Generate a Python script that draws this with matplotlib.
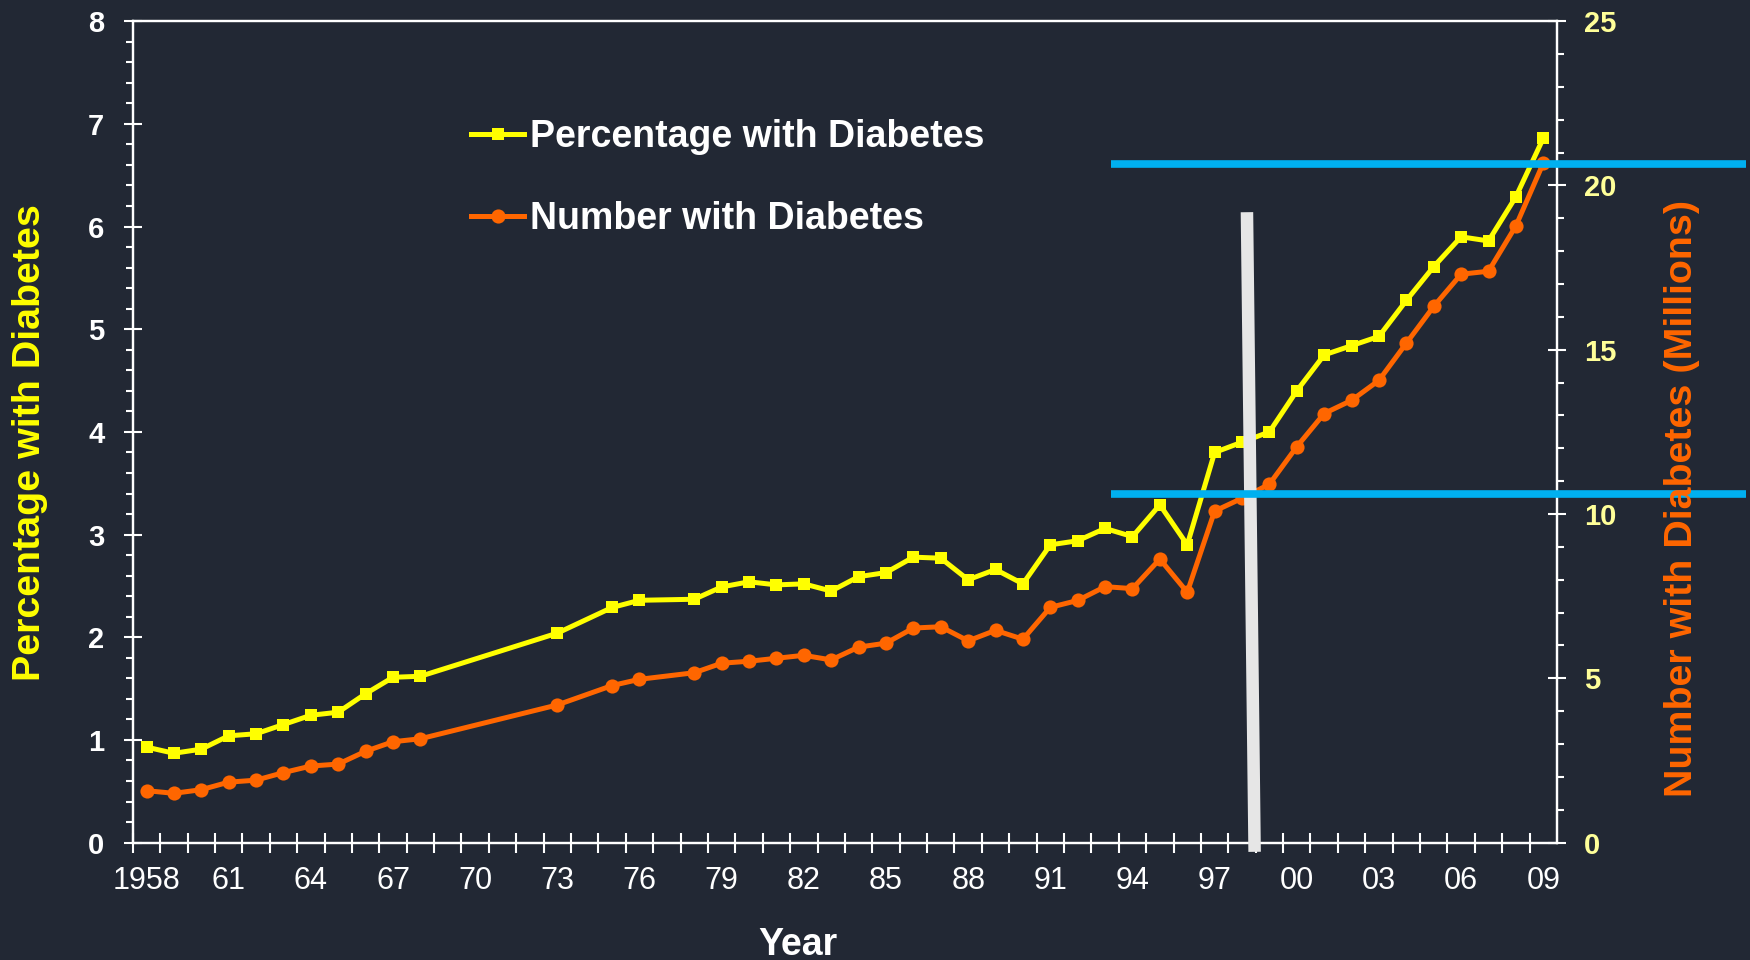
import matplotlib
matplotlib.use("Agg")
import matplotlib.pyplot as plt
from matplotlib.ticker import FixedLocator, MultipleLocator

plt.rcParams['font.family'] = ['Liberation Sans', 'DejaVu Sans']

# Survey years
years = list(range(1958, 1969)) + [1973, 1975, 1976] + list(range(1978, 2010))

# Percentage of population with diagnosed diabetes
pct = [0.93, 0.87, 0.91, 1.04, 1.06, 1.15, 1.24, 1.27, 1.45, 1.61, 1.62,
       2.04, 2.29, 2.36,
       2.37, 2.49, 2.54, 2.51, 2.52, 2.45, 2.59, 2.63, 2.78, 2.77, 2.56,
       2.66, 2.52, 2.90, 2.94, 3.06, 2.98, 3.29, 2.90, 3.80, 3.90, 4.00,
       4.40, 4.75, 4.84, 4.93, 5.28, 5.61, 5.90, 5.86, 6.29, 6.86]

# Number of people with diagnosed diabetes (millions)
num = [1.58, 1.50, 1.61, 1.84, 1.90, 2.13, 2.33, 2.39, 2.78, 3.07, 3.16,
       4.19, 4.78, 4.97,
       5.17, 5.46, 5.52, 5.61, 5.70, 5.56, 5.95, 6.07, 6.53, 6.57, 6.14,
       6.46, 6.19, 7.16, 7.37, 7.79, 7.73, 8.63, 7.62, 10.09, 10.48, 10.91,
       12.05, 13.06, 13.46, 14.07, 15.20, 16.32, 17.30, 17.39, 18.77, 20.68]

# Year labels on the x axis
label_years = list(range(1958, 2010, 3))
label_text = ['1958'] + [f"{y % 100:02d}" for y in label_years[1:]]

# Reference levels (millions) and the marker bar (year, percent)
ref_levels = [20.65, 10.6]
ref_span = [1993.2, 2016.4]
bar_x = [1998.18, 1998.46]
bar_y = [6.14, -0.09]

BG = '#222834'
YELLOW = '#FFFF00'
ORANGE = '#FF6600'
BLUE = '#00B0F0'
PALE = '#FFFF99'

fig = plt.figure(figsize=(17.5, 9.6), dpi=100, facecolor=BG)
ax = fig.add_axes([0.0759, 0.1223, 0.8138, 0.8556])
ax.set_facecolor(BG)
ax2 = ax.twinx()

l1, = ax.plot(years, pct, color=YELLOW, lw=3.6, marker='s', ms=8.8,
              markeredgewidth=0, label='Percentage with Diabetes')
l2, = ax2.plot(years, num, color=ORANGE, lw=3.6, marker='o', ms=10.2,
               markeredgewidth=0, label='Number with Diabetes')

ax.set_xlim(1957.5, 2009.5)
ax.set_ylim(0, 8)
ax2.set_ylim(0, 25)

for a in (ax, ax2):
    for s in a.spines.values():
        s.set_color('white')
        s.set_linewidth(1.6)

# x axis: labels every three years, ticks between categories
ax.xaxis.set_major_locator(FixedLocator(label_years))
ax.set_xticklabels(label_text)
ax.xaxis.set_minor_locator(FixedLocator([y + 0.5 for y in range(1957, 2009)]))
ax.tick_params(axis='x', which='major', length=0, pad=17, labelsize=22,
               labelcolor='white')
ax.tick_params(axis='x', which='minor', direction='inout', length=14,
               width=1.5, color='white')

# left y axis
ax.yaxis.set_major_locator(MultipleLocator(1))
ax.yaxis.set_minor_locator(MultipleLocator(0.2))
ax.tick_params(axis='y', which='major', direction='inout', length=13,
               width=1.5, color='white', pad=14, labelsize=21,
               labelcolor='white')
ax.tick_params(axis='y', which='minor', direction='out', length=5,
               width=1.5, color='white')
for t in ax.get_yticklabels():
    t.set_fontweight('bold')

# right y axis
ax2.yaxis.set_major_locator(MultipleLocator(5))
ax2.yaxis.set_minor_locator(MultipleLocator(1))
ax2.tick_params(axis='y', which='major', direction='inout', length=13,
                width=1.5, color='white', pad=13, labelsize=21,
                labelcolor=PALE)
ax2.tick_params(axis='y', which='minor', direction='out', length=5,
                width=1.5, color='white')
for t in ax2.get_yticklabels():
    t.set_fontweight('bold')

# marker bar and reference lines drawn above the data
ax.set_zorder(1)
ax2.set_zorder(2)
ax.patch.set_visible(True)
ax2.patch.set_visible(False)
bar_pct_to_m = 25 / 8
ax2.plot(bar_x, [v * bar_pct_to_m for v in bar_y], color='#E6E6E6',
         lw=9, solid_capstyle='butt', clip_on=False, zorder=5)
for lvl in ref_levels:
    ax2.plot(ref_span, [lvl, lvl], color=BLUE, lw=5.5,
             solid_capstyle='butt', clip_on=False, zorder=6)

# titles for the axes
fig.text(30 / 1750, 1 - 443 / 960, 'Percentage with Diabetes', rotation=90,
         ha='center', va='center', color=YELLOW, fontsize=28.4,
         fontweight='bold')
fig.text(1682 / 1750, 1 - 498 / 960, 'Number with Diabetes (Millions)',
         rotation=90, ha='center', va='center', color=ORANGE, fontsize=28.4,
         fontweight='bold')
fig.text(798 / 1750, 1 - 955 / 960, 'Year', ha='center', va='baseline',
         color='white', fontsize=27, fontweight='bold')

leg = ax2.legend(handles=[l1, l2], loc='upper left',
                 bbox_to_anchor=(471 / 1750, 1 - 119 / 960),
                 bbox_transform=fig.transFigure, frameon=False,
                 fontsize=27, handlelength=1.42, handletextpad=0.15,
                 labelspacing=1.22, borderpad=0, borderaxespad=0,
                 numpoints=1)
for t in leg.get_texts():
    t.set_color('white')
    t.set_fontweight('bold')
leg.set_zorder(10)

fig.savefig('out.png', dpi=100, facecolor=BG)
